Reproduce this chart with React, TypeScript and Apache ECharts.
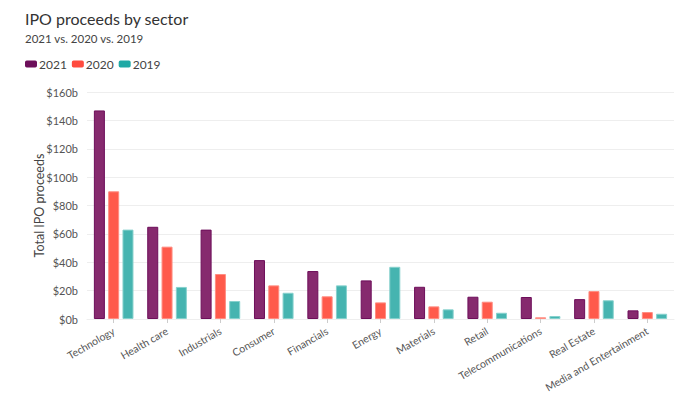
import React, { useEffect, useRef } from "react";
import * as echarts from "echarts";

const categories = [
  "Technology",
  "Health care",
  "Industrials",
  "Consumer",
  "Financials",
  "Energy",
  "Materials",
  "Retail",
  "Telecommunications",
  "Real Estate",
  "Media and Entertainment",
];
const values2021 = [147, 65, 63, 41.5, 33.8, 27.2, 22.7, 15.7, 15.5, 14, 6.1];
const values2020 = [90, 51, 31.7, 23.7, 16, 11.7, 8.9, 12.2, 1.2, 19.7, 4.9];
const values2019 = [63, 22.6, 12.7, 18.5, 23.7, 36.8, 6.8, 4.4, 2.1, 13.2, 3.7];
const yTicks = [0, 20, 40, 60, 80, 100, 120, 140, 160];

const FONT = "Lato, 'Noto Sans', sans-serif";

export default function App() {
  const ref = useRef<HTMLDivElement>(null);
  useEffect(() => {
    if (!ref.current) return;
    const chart = echarts.init(ref.current, undefined, { renderer: "svg" });
    const mk = (name: string, data: number[], fill: string, border: string) => ({
      name,
      type: "bar",
      data,
      barWidth: 11,
      barGap: "30%",
      itemStyle: { color: fill, borderColor: border, borderWidth: 1 },
      emphasis: { disabled: true },
    });
    chart.setOption({
      animation: false,
      backgroundColor: "#ffffff",
      textStyle: { fontFamily: FONT },
      title: [
        {
          text: "IPO proceeds by sector",
          left: 20,
          top: 5,
          textStyle: { fontSize: 16, fontWeight: "normal", color: "#333", fontFamily: FONT },
        },
        {
          text: "2021 vs. 2020 vs. 2019",
          left: 20,
          top: 27,
          textStyle: { fontSize: 11.5, fontWeight: "normal", color: "#444", fontFamily: FONT },
        },
      ],
      legend: {
        left: 20,
        top: 53,
        icon: "roundRect",
        itemWidth: 12,
        itemHeight: 7,
        itemGap: 5,
        textStyle: { fontSize: 12, color: "#444", fontFamily: FONT, padding: [0, 0, 0, -3] },
        data: [
          { name: "2021", itemStyle: { color: "#6d0f5a", borderWidth: 0 } },
          { name: "2020", itemStyle: { color: "#ff4b3e", borderWidth: 0 } },
          { name: "2019", itemStyle: { color: "#1fa9a5", borderWidth: 0 } },
        ],
      },
      grid: { left: 87, right: 20, top: 92, bottom: 78, containLabel: false },
      xAxis: {
        type: "category",
        data: categories,
        axisLine: { show: true, lineStyle: { color: "#eeeeee" } },
        axisTick: { show: true, alignWithLabel: true, length: 4, lineStyle: { color: "#cccccc" } },
        axisLabel: {
          rotate: 30,
          interval: 0,
          fontSize: 10.5,
          color: "#555",
          fontFamily: FONT,
          margin: 11,
        },
      },
      yAxis: {
        type: "value",
        min: 0,
        max: 160,
        interval: 20,
        name: "Total IPO proceeds",
        nameLocation: "middle",
        nameGap: 41,
        nameMoveOverlap: false,
        nameRotate: 90,
        nameTextStyle: { fontSize: 12.5, color: "#444", fontFamily: FONT },
        axisLine: { show: false },
        axisTick: { show: false },
        splitLine: { lineStyle: { color: "#eeeeee", width: 1 } },
        axisLabel: {
          fontSize: 11,
          color: "#555",
          fontFamily: FONT,
          margin: 9,
          formatter: (v: number) => (yTicks.includes(v) ? `$${v}b` : ""),
        },
      },
      series: [
        mk("2021", values2021, "#862a6e", "#6d0e5a"),
        mk("2020", values2020, "#ff5a4b", "#ff8d82"),
        mk("2019", values2019, "#46b4b0", "#86d1cd"),
      ],
    });
    return () => chart.dispose();
  }, []);
  return <div ref={ref} style={{ width: 694, height: 397, position: "absolute", left: 0, top: 0 }} />;
}
